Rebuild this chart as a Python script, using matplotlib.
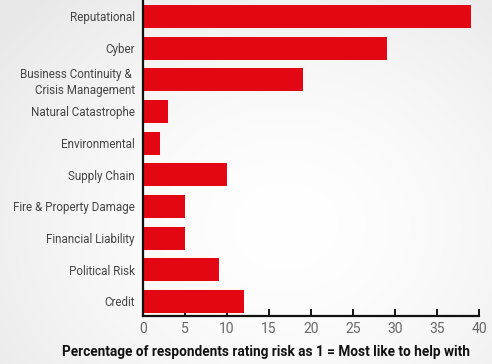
import numpy as np
import matplotlib
matplotlib.use("Agg")
import matplotlib.pyplot as plt

categories = [
    "Reputational",
    "Cyber",
    "Business Continuity & \nCrisis Management",
    "Natural Catastrophe",
    "Environmental",
    "Supply Chain",
    "Fire & Property Damage",
    "Financial Liability",
    "Political Risk",
    "Credit",
]
values = [39, 29, 19, 3, 2, 10, 5, 5, 9, 12]
xticks = [0, 5, 10, 15, 20, 25, 30, 35, 40]
xlabel = "Percentage of respondents rating risk as 1 = Most like to help with"

plt.rcParams["font.family"] = ["Roboto", "DejaVu Sans"]

W, H, DPI = 492, 364, 100
fig = plt.figure(figsize=(W / DPI, H / DPI), dpi=DPI)

# soft radial background: white in the middle, light grey towards the corners
bg = fig.add_axes([0, 0, 1, 1], zorder=-10)
yy, xx = np.mgrid[0:H, 0:W]
cx, cy = 0.58 * W, 0.62 * H
r = np.sqrt(((xx - cx) / (0.75 * W)) ** 2 + ((yy - cy) / (0.85 * H)) ** 2)
shade = 1.0 - 0.09 * np.clip(r, 0, 1) ** 1.6
bg.imshow(np.dstack([shade] * 3), aspect="auto", extent=[0, 1, 0, 1], origin="upper")
bg.axis("off")

ax = fig.add_axes([143 / W, 1 - 316 / H, (479 - 143) / W, 316 / H])
ax.patch.set_alpha(0)

pos = np.arange(len(categories))
ax.barh(pos, values, height=0.73, color="#e30613", zorder=2)

ax.set_xlim(0, 40)
ax.set_ylim(9.46, -0.52)
ax.set_yticks(pos)
ax.set_yticklabels(categories, fontsize=8.4, color="#444444", linespacing=1.3)
ax.set_xticks(xticks)
ax.set_xticklabels([str(t) for t in xticks], fontsize=10, color="#666666")

ax.tick_params(axis="y", length=0, pad=6)
ax.tick_params(axis="x", direction="in", length=5, width=1.4, color="#111111", pad=4)

for s in ["top", "right"]:
    ax.spines[s].set_visible(False)
for s in ["left", "bottom"]:
    ax.spines[s].set_color("#111111")
    ax.spines[s].set_linewidth(1.6)

fig.text(266 / W, 1 - 352 / H, xlabel, fontsize=9.8, fontweight="bold",
         color="#111111", ha="center", va="center")

fig.savefig("out.png", dpi=DPI)
